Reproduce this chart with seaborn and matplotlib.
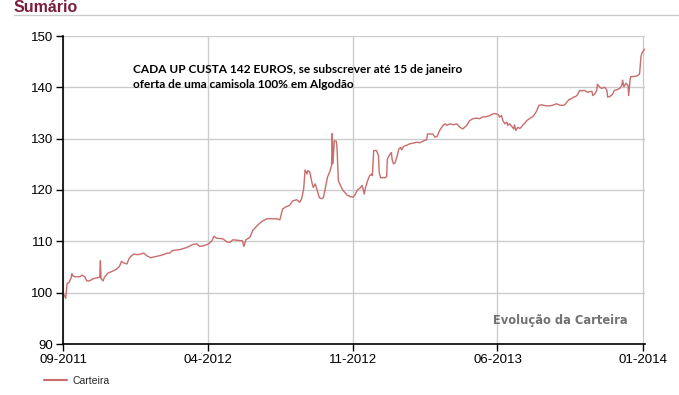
import pandas as pd
import numpy as np
import seaborn as sns
import matplotlib.pyplot as plt
import matplotlib.dates as mdates
from matplotlib.lines import Line2D

# valores da carteira
dates = [
    "2011-09-01", "2011-09-05", "2011-09-07", "2011-09-10", "2011-09-13", "2011-09-14", "2011-09-16",
    "2011-09-19", "2011-09-26", "2011-09-29", "2011-10-03", "2011-10-06", "2011-10-10", "2011-10-15",
    "2011-10-21", "2011-10-25", "2011-10-26", "2011-10-27", "2011-10-30", "2011-11-01", "2011-11-06",
    "2011-11-13", "2011-11-19", "2011-11-23", "2011-11-26", "2011-11-29", "2011-12-04", "2011-12-07",
    "2011-12-10", "2011-12-14", "2011-12-20", "2011-12-29", "2012-01-02", "2012-01-08", "2012-01-14",
    "2012-01-21", "2012-01-29", "2012-01-31", "2012-02-05", "2012-02-09", "2012-02-20", "2012-03-01",
    "2012-03-10", "2012-03-16", "2012-03-20", "2012-03-25", "2012-04-02", "2012-04-07", "2012-04-10",
    "2012-04-14", "2012-04-23", "2012-04-29", "2012-05-03", "2012-05-08", "2012-05-22", "2012-05-24",
    "2012-05-27", "2012-06-02", "2012-06-06", "2012-06-10", "2012-06-16", "2012-06-21", "2012-06-27",
    "2012-07-11", "2012-07-16", "2012-07-20", "2012-07-26", "2012-07-30", "2012-08-04", "2012-08-10",
    "2012-08-14", "2012-08-17", "2012-08-20", "2012-08-22", "2012-08-25", "2012-08-26", "2012-08-29",
    "2012-09-01", "2012-09-03", "2012-09-06", "2012-09-09", "2012-09-12", "2012-09-15", "2012-09-18",
    "2012-09-21", "2012-09-24", "2012-09-27", "2012-09-28", "2012-09-30", "2012-10-01", "2012-10-02",
    "2012-10-04", "2012-10-07", "2012-10-08", "2012-10-10", "2012-10-11", "2012-10-13", "2012-10-17",
    "2012-10-23", "2012-10-28", "2012-11-01", "2012-11-04", "2012-11-07", "2012-11-11", "2012-11-14",
    "2012-11-16", "2012-11-17", "2012-11-19", "2012-11-22", "2012-11-25", "2012-11-28", "2012-11-29",
    "2012-12-01", "2012-12-05", "2012-12-08", "2012-12-09", "2012-12-11", "2012-12-18", "2012-12-20",
    "2012-12-21", "2012-12-25", "2012-12-27", "2012-12-28", "2012-12-30", "2013-01-01", "2013-01-04",
    "2013-01-07", "2013-01-10", "2013-01-11", "2013-01-14", "2013-01-18", "2013-01-23", "2013-01-27",
    "2013-02-02", "2013-02-07", "2013-02-11", "2013-02-17", "2013-02-18", "2013-02-26", "2013-03-01",
    "2013-03-04", "2013-03-08", "2013-03-13", "2013-03-16", "2013-03-19", "2013-03-23", "2013-03-28",
    "2013-04-02", "2013-04-07", "2013-04-11", "2013-04-17", "2013-04-21", "2013-04-26", "2013-05-01",
    "2013-05-06", "2013-05-10", "2013-05-16", "2013-05-21", "2013-05-25", "2013-05-28", "2013-05-31",
    "2013-06-03", "2013-06-04", "2013-06-07", "2013-06-09", "2013-06-12", "2013-06-15", "2013-06-16",
    "2013-06-19", "2013-06-22", "2013-06-25", "2013-06-26", "2013-06-28", "2013-07-01", "2013-07-04",
    "2013-07-07", "2013-07-08", "2013-07-11", "2013-07-14", "2013-07-18", "2013-07-23", "2013-07-26",
    "2013-07-29", "2013-08-01", "2013-08-05", "2013-08-08", "2013-08-12", "2013-08-17", "2013-08-21",
    "2013-08-27", "2013-09-01", "2013-09-05", "2013-09-08", "2013-09-11", "2013-09-14", "2013-09-18",
    "2013-09-21", "2013-09-24", "2013-09-27", "2013-09-30", "2013-10-03", "2013-10-07", "2013-10-12",
    "2013-10-15", "2013-10-18", "2013-10-19", "2013-10-22", "2013-10-25", "2013-10-26", "2013-10-29",
    "2013-11-01", "2013-11-06", "2013-11-09", "2013-11-10", "2013-11-13", "2013-11-17", "2013-11-20",
    "2013-11-23", "2013-11-28", "2013-12-01", "2013-12-02", "2013-12-04", "2013-12-07", "2013-12-10",
    "2013-12-11", "2013-12-13", "2013-12-14", "2013-12-17", "2013-12-23", "2013-12-27", "2013-12-29",
    "2013-12-30", "2014-01-01", "2014-01-04",
]
carteira = [
    100.0, 98.9, 101.8, 102.0, 102.9, 103.7, 103.2,
    103.1, 103.1, 103.4, 103.1, 102.3, 102.3, 102.7,
    102.9, 103.0, 106.2, 102.7, 102.3, 103.0, 103.8,
    104.2, 104.6, 105.1, 106.1, 105.8, 105.6, 106.6,
    107.1, 107.5, 107.4, 107.7, 107.2, 106.8, 107.0,
    107.2, 107.5, 107.7, 107.7, 108.2, 108.4, 108.8,
    109.4, 109.5, 109.0, 109.1, 109.5, 110.1, 111.0,
    110.6, 110.5, 109.9, 109.8, 110.3, 110.1, 109.0,
    110.3, 110.8, 112.1, 112.7, 113.5, 114.0, 114.4,
    114.4, 114.2, 116.3, 116.8, 117.0, 117.9, 118.1,
    117.6, 118.3, 120.2, 123.9, 123.1, 123.8, 123.5,
    121.5, 120.5, 121.2, 119.9, 118.5, 118.3, 118.5,
    120.5, 122.5, 123.5, 123.8, 124.8, 131.0, 125.1,
    129.6, 129.5, 128.3, 121.8, 121.5, 120.9, 119.9,
    119.0, 118.7, 118.6, 119.2, 120.0, 120.4, 120.9,
    119.9, 119.2, 120.5, 121.8, 122.8, 123.1, 122.8,
    127.7, 127.7, 126.7, 123.5, 122.4, 122.4, 122.6,
    126.0, 127.0, 127.3, 126.0, 125.1, 125.2, 126.4,
    128.0, 128.3, 127.8, 128.5, 128.7, 129.0, 129.1,
    129.3, 129.2, 129.5, 129.8, 130.9, 130.9, 130.3,
    130.4, 131.6, 132.6, 132.9, 132.6, 132.9, 132.7,
    132.9, 132.2, 131.9, 132.6, 133.5, 133.9, 134.0,
    133.9, 134.2, 134.3, 134.5, 134.8, 134.9, 134.8,
    134.6, 134.2, 134.5, 133.5, 132.9, 133.2, 132.6,
    132.9, 132.4, 131.9, 132.7, 131.6, 132.2, 132.0,
    132.4, 132.6, 133.0, 133.5, 133.9, 134.3, 134.8,
    135.5, 136.5, 136.6, 136.5, 136.4, 136.4, 136.5,
    136.8, 136.5, 136.5, 136.6, 137.1, 137.6, 137.8,
    138.1, 138.2, 138.6, 139.4, 139.3, 139.4, 139.0,
    139.2, 139.2, 138.4, 138.7, 139.4, 140.6, 140.1,
    139.8, 140.0, 139.4, 138.1, 138.2, 138.6, 139.4,
    139.5, 139.8, 140.4, 141.4, 140.1, 140.8, 140.4,
    138.4, 141.4, 142.1, 142.1, 142.2, 142.6, 145.9,
    146.5, 147.0, 147.5,
]
x_ticks = ["2011-09-01", "2012-04-01", "2012-11-01", "2013-06-01", "2014-01-01"]
y_ticks = [90, 100, 110, 120, 130, 140, 150]

df = pd.DataFrame({"Data": pd.to_datetime(dates), "Carteira": carteira})

sns.set_style("whitegrid")
plt.rcParams['font.family'] = ['Liberation Sans', 'DejaVu Sans']

line_color = "#c86c6c"

fig = plt.figure(figsize=(6.79, 3.95), dpi=100)
ax = fig.add_axes([63 / 679, 51 / 395, 582 / 679, 308 / 395])

sns.lineplot(data=df, x="Data", y="Carteira", ax=ax, color=line_color, linewidth=1.0)

ax.set_xlim(pd.Timestamp("2011-09-01"), pd.Timestamp("2014-01-04"))
ax.set_ylim(90, 150)
ax.set_xticks(pd.to_datetime(x_ticks))
ax.xaxis.set_major_formatter(mdates.DateFormatter("%m-%Y"))
ax.set_yticks(y_ticks)
ax.set_xlabel("")
ax.set_ylabel("")

ax.grid(True, color="#cccccc", linewidth=1.0)
for side in ["top", "right"]:
    ax.spines[side].set_visible(False)
for side in ["left", "bottom"]:
    ax.spines[side].set_color("black")
    ax.spines[side].set_linewidth(1.2)
ax.tick_params(axis="both", direction="out", length=5, width=1, color="black",
               labelsize=9.5, labelcolor="black", pad=2, left=True, bottom=True)

# texto de promocao
ax.text(0.121, 0.91, "CADA UP CUSTA 142 EUROS, se subscrever até 15 de janeiro\n"
        "oferta de uma camisola 100% em Algodão",
        transform=ax.transAxes, fontsize=8.6, fontweight="bold", family="Lato",
        color="black", va="top", ha="left", linespacing=1.45)

ax.text(0.97, 0.055, "Evolução da Carteira", transform=ax.transAxes,
        fontsize=8.3, fontweight="bold", color="#727272", ha="right", va="bottom",
        family=["DejaVu Sans"])

# titulo da secao
fig.text(14 / 679, 1 - 7 / 395, "Sumário", fontsize=11.5, fontweight="bold",
         color="#7a1e3c", ha="left", va="center")
fig.add_artist(Line2D([14 / 679, 1.0], [1 - 14.5 / 395, 1 - 14.5 / 395],
                      color="#cccccc", linewidth=1.0, transform=fig.transFigure))

# legenda
handle = Line2D([], [], color=line_color, linewidth=1.5)
fig.legend([handle], ["Carteira"], loc="center left", bbox_to_anchor=(35 / 679, 1 - 381 / 395),
           frameon=False, fontsize=7.5, handlelength=2.2, handletextpad=0.5)

plt.savefig("out.png", dpi=100)
